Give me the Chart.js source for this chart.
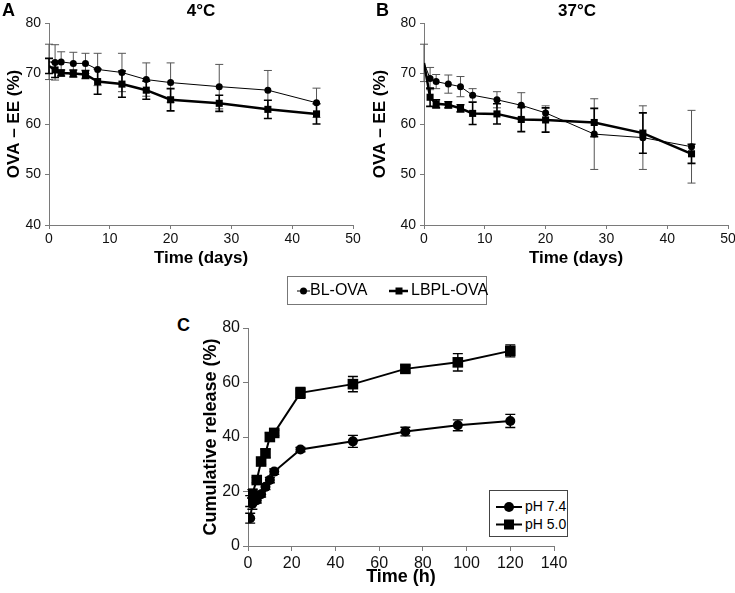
<!DOCTYPE html>
<html>
<head>
<meta charset="utf-8">
<script src="https://cdn.jsdelivr.net/npm/chart.js@4.4.0/dist/chart.umd.min.js"></script>
<style>
  body { margin: 0; background: #fff; font-family: "Liberation Sans", Arial, sans-serif; }
  #wrap { position: relative; width: 735px; height: 593px; overflow: hidden; }
  canvas { position: absolute; }
  .txt { position: absolute; white-space: nowrap; color: #000; line-height: 20px; }
  .b { font-weight: bold; }
  .legend { position: absolute; border: 1px solid #777; background: #fff; box-sizing: border-box; }
  .legend svg { position: absolute; left: 0; top: 0; }
</style>
</head>
<body>
<div id="wrap">
  <canvas id="chartA" width="367" height="272" style="left:0;top:0"></canvas>
  <canvas id="chartB" width="368" height="272" style="left:367px;top:0"></canvas>
  <canvas id="chartC" width="380" height="288" style="left:190px;top:305px"></canvas>

  <div class="txt b" style="left:2px;top:0;font-size:18px">A</div>
  <div class="txt b" style="left:376px;top:0;font-size:18px">B</div>
  <div class="txt b" style="left:177px;top:315px;font-size:18px">C</div>
  <div class="txt b" style="left:151px;top:1px;width:100px;text-align:center;font-size:17px">4°C</div>
  <div class="txt b" style="left:527px;top:1px;width:100px;text-align:center;font-size:17px">37°C</div>

  <!-- legend for panels A and B -->
  <div class="legend" style="left:287px;top:276px;width:200px;height:29px">
    <svg width="200" height="29">
      <line x1="9" y1="14" x2="22" y2="14" stroke="#000" stroke-width="1"/>
      <circle cx="15.5" cy="14" r="3.5" fill="#000"/>
      <line x1="101" y1="14" x2="120" y2="14" stroke="#000" stroke-width="2.5"/>
      <rect x="107.5" y="10.5" width="7" height="7" fill="#000"/>
    </svg>
    <div class="txt" style="left:22px;top:3px;font-size:16px">BL-OVA</div>
    <div class="txt" style="left:123px;top:3px;font-size:16px">LBPL-OVA</div>
  </div>

  <!-- legend for panel C -->
  <div class="legend" style="left:489px;top:490px;width:79px;height:47px;border-color:#444">
    <svg width="79" height="47">
      <line x1="6" y1="16" x2="32" y2="16" stroke="#000" stroke-width="2"/>
      <circle cx="19" cy="16" r="5" fill="#000"/>
      <line x1="6" y1="33.5" x2="32" y2="33.5" stroke="#000" stroke-width="2"/>
      <rect x="14" y="28.5" width="10" height="10" fill="#000"/>
    </svg>
    <div class="txt" style="left:35px;top:5px;font-size:14px">pH 7.4</div>
    <div class="txt" style="left:35px;top:23px;font-size:14px">pH 5.0</div>
  </div>
</div>

<script>
// Panel A / B : encapsulation efficiency over storage time
const days = [0, 1, 2, 4, 6, 8, 12, 16, 20, 28, 36, 44];

const blOva4C = [72.3, 72.2, 72.3, 72.0, 72.0, 70.8, 70.2, 68.8, 68.2, 67.4, 66.7, 64.2];
const blOva4CErr = [3.5, 3.5, 2.0, 2.2, 2.0, 3.2, 3.8, 3.3, 3.9, 4.4, 3.9, 2.9];
const lbplOva4C = [71.5, 70.7, 70.1, 70.0, 69.8, 68.4, 67.9, 66.7, 64.8, 64.1, 62.9, 62.0];
const lbplOva4CErr = [1.5, 1.5, 0.6, 0.7, 0.8, 2.5, 2.6, 1.8, 2.2, 1.6, 1.8, 2.0];

const blOva37C = [72.1, 69.0, 68.4, 67.9, 67.4, 65.7, 64.8, 63.7, 62.2, 58.0, 57.3, 55.5];
const blOva37CErr = [3.7, 2.2, 1.4, 1.8, 2.0, 1.3, 1.6, 2.5, 1.4, 7.0, 6.3, 7.2];
const lbplOva37C = [72.1, 65.3, 64.0, 63.8, 63.1, 62.1, 62.0, 60.9, 60.8, 60.3, 58.2, 54.1];
const lbplOva37CErr = [0, 1.8, 0.8, 0.6, 0.7, 2.2, 2.0, 2.4, 2.4, 2.8, 4.0, 1.9];

const dayTicks = [0, 10, 20, 30, 40, 50];
const eeTicks = [40, 50, 60, 70, 80];

// Panel C : cumulative release
const hours = [1, 2, 4, 6, 8, 10, 12, 24, 48, 72, 96, 120];
const releasePh74 = [10.2, 15.5, 16.8, 19.0, 21.7, 24.2, 27.3, 35.4, 38.4, 42.0, 44.3, 45.9];
const releasePh74Err = [1.8, 2.0, 1.0, 1.0, 1.0, 1.0, 1.0, 0.8, 2.2, 1.6, 2.0, 2.4];
const releasePh50 = [16.5, 19.2, 24.2, 31.0, 34.0, 40.0, 41.5, 56.2, 59.4, 65.0, 67.4, 71.6];
const releasePh50Err = [2.0, 1.5, 1.0, 1.0, 1.5, 1.5, 1.0, 2.0, 2.8, 1.3, 3.2, 2.2];

const hourTicks = [0, 20, 40, 60, 80, 100, 120, 140];
const releaseTicks = [0, 20, 40, 60, 80];

Chart.defaults.font.family = '"Liberation Sans", Arial, sans-serif';
Chart.defaults.color = '#000';

const axisGray = '#7a7a7a';

// error bars drawn with the chart's own scales
const errorBars = {
  id: 'errorBars',
  beforeDatasetsDraw(chart) {
    const { ctx, scales } = chart;
    chart.data.datasets.forEach(ds => {
      if (!ds.errors) return;
      ctx.save();
      ctx.strokeStyle = ds.errorColor;
      ctx.lineWidth = ds.errorWidth;
      ds.data.forEach((p, i) => {
        const e = ds.errors[i];
        if (!e) return;
        const x = scales.x.getPixelForValue(p.x);
        const yt = scales.y.getPixelForValue(p.y + e);
        const yb = scales.y.getPixelForValue(p.y - e);
        const c = ds.capHalf;
        ctx.beginPath();
        ctx.moveTo(x, yt); ctx.lineTo(x, yb);
        ctx.moveTo(x - c, yt); ctx.lineTo(x + c, yt);
        ctx.moveTo(x - c, yb); ctx.lineTo(x + c, yb);
        ctx.stroke();
      });
      ctx.restore();
    });
  }
};

const toPoints = (xs, ys) => xs.map((x, i) => ({ x: x, y: ys[i] }));

function scalesFor(xTicks, yTicks, xTitle, yTitle, f) {
  return {
    x: {
      type: 'linear',
      min: xTicks[0],
      max: xTicks[xTicks.length - 1],
      afterBuildTicks: s => { s.ticks = xTicks.map(v => ({ value: v })); },
      afterFit: s => { s.height = f.xHeight; s.paddingLeft = 0; s.paddingRight = 0; },
      border: { color: axisGray, width: 1 },
      grid: { drawOnChartArea: false, tickLength: f.tick, color: axisGray },
      ticks: { font: { size: f.tickSize }, color: '#111', padding: f.xTickPad, maxRotation: 0 },
      title: { display: true, text: xTitle, font: { size: f.titleSize, weight: 'bold' }, padding: { top: 0, bottom: f.xTitlePad } }
    },
    y: {
      type: 'linear',
      min: yTicks[0],
      max: yTicks[yTicks.length - 1],
      afterBuildTicks: s => { s.ticks = yTicks.map(v => ({ value: v })); },
      afterFit: s => { s.width = f.yWidth; s.paddingTop = 0; s.paddingBottom = 0; },
      border: { color: axisGray, width: 1 },
      grid: { drawOnChartArea: false, tickLength: f.tick, color: axisGray },
      ticks: { font: { size: f.tickSize }, color: '#111', padding: f.yTickPad },
      title: { display: true, text: yTitle, font: { size: f.titleSize, weight: 'bold' }, padding: { top: f.yTitlePad, bottom: 0 } }
    }
  };
}

function baseOptions(pad, scales) {
  return {
    responsive: false,
    animation: false,
    devicePixelRatio: 1,
    layout: { padding: { top: pad.top, right: pad.right, bottom: 0, left: 0 } },
    plugins: { legend: { display: false }, tooltip: { enabled: false } },
    scales: scales
  };
}

function stabilityDatasets(bl, blErr, lbpl, lbplErr) {
  return [
    {
      label: 'BL-OVA',
      data: toPoints(days, bl),
      borderColor: '#000', borderWidth: 1,
      pointStyle: 'circle',
      pointRadius: c => (c.raw && c.raw.x === 0 ? 0 : 3.5),
      pointBackgroundColor: '#000', pointBorderWidth: 0,
      errors: blErr, errorColor: '#555', errorWidth: 1, capHalf: 4
    },
    {
      label: 'LBPL-OVA',
      data: toPoints(days, lbpl),
      borderColor: '#000', borderWidth: 2.5,
      pointStyle: 'rect',
      pointRadius: c => (c.raw && c.raw.x === 0 ? 0 : 5),
      pointBackgroundColor: '#000', pointBorderWidth: 0,
      errors: lbplErr, errorColor: '#000', errorWidth: 1.6, capHalf: 4
    }
  ];
}

const fmtAB = { xHeight: 47, yWidth: 49, tick: 4, tickSize: 14, titleSize: 17, xTickPad: 2, yTickPad: 4, xTitlePad: 3, yTitlePad: 4 };

new Chart(document.getElementById('chartA'), {
  type: 'line',
  data: { datasets: stabilityDatasets(blOva4C, blOva4CErr, lbplOva4C, lbplOva4CErr) },
  options: baseOptions({ top: 23, right: 14 }, scalesFor(dayTicks, eeTicks, 'Time (days)', 'OVA – EE (%)', fmtAB)),
  plugins: [errorBars]
});

new Chart(document.getElementById('chartB'), {
  type: 'line',
  data: { datasets: stabilityDatasets(blOva37C, blOva37CErr, lbplOva37C, lbplOva37CErr) },
  options: baseOptions({ top: 23, right: 7 }, scalesFor(dayTicks, eeTicks, 'Time (days)', 'OVA – EE (%)', Object.assign({}, fmtAB, { yWidth: 57, yTitlePad: 3 }))),
  plugins: [errorBars]
});

new Chart(document.getElementById('chartC'), {
  type: 'line',
  data: {
    datasets: [
      {
        label: 'pH 7.4',
        data: toPoints(hours, releasePh74),
        borderColor: '#000', borderWidth: 2,
        pointStyle: 'circle', pointRadius: 5,
        pointBackgroundColor: '#000', pointBorderWidth: 0,
        errors: releasePh74Err, errorColor: '#000', errorWidth: 1.4, capHalf: 5
      },
      {
        label: 'pH 5.0',
        data: toPoints(hours, releasePh50),
        borderColor: '#000', borderWidth: 2,
        pointStyle: 'rect', pointRadius: 7.5,
        pointBackgroundColor: '#000', pointBorderWidth: 0,
        errors: releasePh50Err, errorColor: '#000', errorWidth: 1.4, capHalf: 5
      }
    ]
  },
  options: baseOptions({ top: 23, right: 16 }, scalesFor(hourTicks, releaseTicks, 'Time (h)', 'Cumulative release (%)',
    { xHeight: 47, yWidth: 58, tick: 5, tickSize: 16, titleSize: 18, xTickPad: 3, yTickPad: 3, xTitlePad: 5, yTitlePad: 10 })),
  plugins: [errorBars]
});
</script>
</body>
</html>
